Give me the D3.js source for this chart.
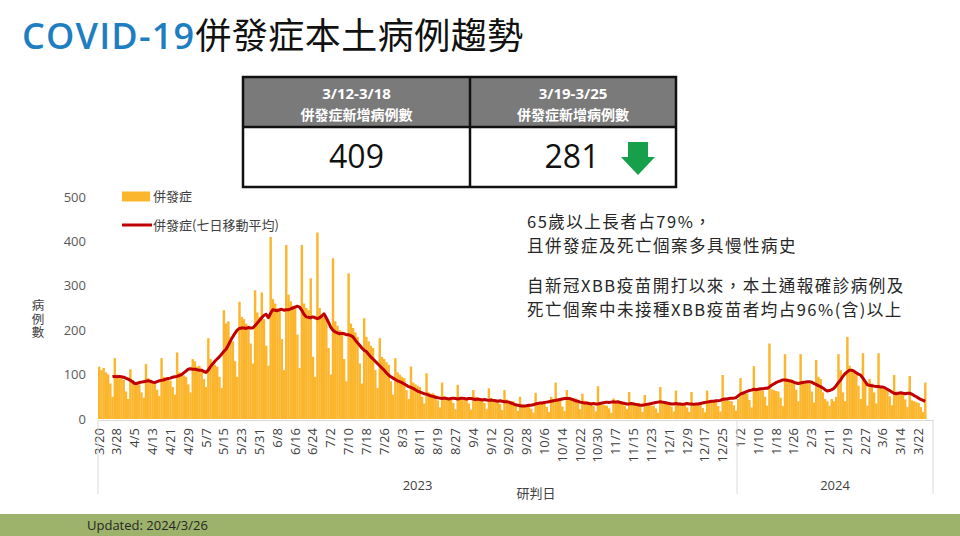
<!DOCTYPE html>
<html>
<head>
<meta charset="utf-8">
<script src="https://cdn.jsdelivr.net/npm/d3@7"></script>
<style>
  body { margin: 0; background: #fff; }
  svg { display: block; font-family: "Open Sans", "Noto Sans CJK TC", sans-serif; }
</style>
</head>
<body>
<div id="chart"></div>
<script>
// page size
const width = 960;
const height = 536;

// daily complication cases, 2023/3/20 (Mon) -> 2024/3/25, one row per week
const dailyCases = [
  118,110,115,105,100,80,50,
  137,100,95,92,88,62,45,
  112,88,80,84,78,60,48,
  124,92,88,85,80,66,52,
  137,95,92,88,86,72,55,
  150,105,100,98,95,78,60,
  135,130,118,120,112,90,72,
  182,135,128,122,118,95,70,
  245,215,220,185,175,130,95,
  264,230,225,215,210,170,125,
  290,240,230,285,225,165,120,
  410,270,260,250,245,180,110,
  392,280,265,255,250,190,115,
  392,260,250,245,317,140,95,
  420,250,235,230,225,160,100,
  362,220,210,200,195,135,85,
  328,215,205,195,185,125,80,
  227,185,175,165,160,110,70,
  182,140,135,128,122,85,55,
  137,105,100,95,92,65,45,
  118,82,78,75,72,50,35,
  103,60,57,58,54,42,26,
  82,52,49,48,47,36,22,
  77,50,46,47,45,35,21,
  65,50,48,47,46,36,22,
  69,47,45,44,43,34,20,
  65,44,41,40,40,31,18,
  50,33,31,30,30,23,14,
  59,38,36,35,35,27,16,
  50,40,82,44,42,28,18,
  65,50,48,47,46,36,22,
  57,41,39,38,37,29,17,
  74,33,32,31,30,24,14,
  46,42,40,40,38,30,22,
  61,38,37,36,36,28,16,
  54,33,31,30,30,24,14,
  72,39,37,36,36,28,17,
  64,37,35,34,34,26,16,
  61,36,34,34,33,25,15,
  64,41,39,38,38,29,17,
  99,44,42,41,40,31,19,
  45,92,60,58,57,43,26,
  119,70,66,65,64,50,30,
  170,67,65,63,62,48,29,
  146,92,88,87,85,66,40,
  146,86,82,81,80,62,37,
  133,95,90,60,45,40,30,
  45,40,50,146,110,60,40,
  185,120,110,105,100,75,45,
  148,85,30,90,80,60,35,
  148,72,68,67,66,51,31,
  99,62,59,58,57,44,27,
  97,42,40,38,36,27,16,
  82
];

// 7-day moving average, first value on 2023/3/26 (day index 6)
const maStart = 6;
const movingAvg = [
  95,
  96,95,96,95,94,92,90,
  87,84,80,80,82,83,84,
  85,86,85,83,82,84,86,
  87,88,90,91,92,94,95,
  96,98,100,104,108,112,113,
  112,112,111,110,110,107,105,
  110,118,124,130,135,140,146,
  152,157,166,176,185,193,200,
  204,205,205,204,206,205,205,
  210,216,222,228,233,236,228,
  238,246,245,244,246,247,245,
  246,246,248,250,252,254,252,
  245,236,230,229,228,230,228,
  226,228,232,237,228,218,207,
  200,196,194,192,193,192,190,
  190,188,185,178,172,166,160,
  155,152,146,140,135,130,125,
  120,115,110,104,99,95,92,
  89,86,84,82,79,76,73,
  71,69,66,63,61,59,57,
  56,54,52,51,49,48,47,
  46,47,46,45,46,47,46,
  45,46,47,46,45,46,46,
  45,44,45,44,43,44,43,
  42,43,42,41,40,41,40,
  39,39,38,36,34,32,31,
  30,29,29,30,31,31,32,
  34,35,36,36,37,38,39,
  40,41,42,43,44,45,46,
  46,46,45,43,41,40,38,
  37,36,36,35,34,35,34,
  34,35,36,37,38,37,38,
  39,38,39,37,36,35,34,
  34,35,34,33,32,31,31,
  32,33,34,35,36,37,38,
  39,38,37,36,35,34,34,
  35,34,34,33,34,35,34,
  34,33,34,34,35,36,37,
  38,39,40,40,41,41,42,
  44,45,45,46,47,47,48,
  52,56,58,60,62,64,65,
  67,66,67,68,68,69,69,
  72,76,79,82,84,86,88,
  88,87,86,85,83,81,80,
  81,82,83,84,84,83,80,
  78,75,73,70,66,63,64,
  66,69,75,82,88,96,102,
  106,110,110,108,104,101,99,
  92,85,77,76,75,74,73,
  73,72,72,70,67,64,61,
  58,57,58,59,58,57,58,
  58,56,53,50,47,44,42,
  40
];

// x axis: one category per day, labels every 8 days
const startDay = new Date(2023, 2, 20);
const endDay = new Date(2024, 2, 29);
const tickStep = 8;
const tickLabels = [
  "3/20","3/28","4/5","4/13","4/21","4/29","5/7","5/15","5/23","5/31",
  "6/8","6/16","6/24","7/2","7/10","7/18","7/26","8/3","8/11","8/19",
  "8/27","9/4","9/12","9/20","9/28","10/6","10/14","10/22","10/30","11/7",
  "11/15","11/23","12/1","12/9","12/17","12/25",
  "1/2","1/10","1/18","1/26","2/3","2/11","2/19","2/27","3/6","3/14","3/22"
];
const years = ["2023", "2024"];
const yTicks = [0, 100, 200, 300, 400, 500];

// summary table
const tablePeriods = ["3/12-3/18", "3/19-3/25"];
const tableValues = [409, 281];

// notes on the right
const notes = [
  "65歲以上長者占79%，",
  "且併發症及死亡個案多具慢性病史",
  "",
  "自新冠XBB疫苗開打以來，本土通報確診病例及",
  "死亡個案中未接種XBB疫苗者均占96%(含)以上"
];

const barColor = "#fbb62d";
const lineColor = "#c00000";

const svg = d3.select("#chart")
  .append("svg")
  .attr("lang", "zh-Hant-TW")
  .attr("width", width)
  .attr("height", height);

// title
const title = svg.append("text")
  .attr("x", 22)
  .attr("y", 49)
  .style("font-size", "36px");
title.append("tspan")
  .attr("fill", "#1f7ec2")
  .style("font-weight", 600)
  .style("letter-spacing", "1.2px")
  .text("COVID-19");
title.append("tspan")
  .attr("fill", "#111")
  .style("font-family", "'Noto Sans CJK TC'")
  .style("font-weight", 400)
  .style("letter-spacing", "0.5px")
  .text("併發症本土病例趨勢");

// scales
const days = d3.timeDay.range(startDay, endDay);
const x = d3.scaleBand()
  .domain(days.map((d, i) => i))
  .range([98, 933])
  .paddingInner(0);

const y = d3.scaleLinear()
  .domain([0, 500])
  .range([419, 197]);

// bars
svg.append("g")
  .selectAll("rect")
  .data(dailyCases)
  .join("rect")
  .attr("x", (d, i) => x(i))
  .attr("width", x.bandwidth() + 0.2)
  .attr("y", d => y(d))
  .attr("height", d => y(0) - y(d))
  .attr("fill", barColor);

// moving average line
const line = d3.line()
  .x((d, i) => x(i + maStart) + x.bandwidth() / 2)
  .y(d => y(d));

svg.append("path")
  .datum(movingAvg)
  .attr("d", line)
  .attr("fill", "none")
  .attr("stroke", lineColor)
  .attr("stroke-width", 3)
  .attr("stroke-linejoin", "round");

// x axis
const xAxis = d3.axisBottom(x)
  .tickValues(tickLabels.map((t, k) => k * tickStep))
  .tickFormat((d, k) => tickLabels[k])
  .tickSize(0);

const gx = svg.append("g")
  .attr("transform", "translate(0,420)")
  .call(xAxis);
gx.select(".domain").attr("stroke", "#d9d9d9");
gx.selectAll("text")
  .attr("transform", "rotate(-90)")
  .attr("x", -8)
  .attr("y", 0)
  .attr("dy", "0.35em")
  .attr("text-anchor", "end")
  .attr("fill", "#404040")
  .style("font-size", "13px")
  .style("font-family", "'Open Sans'");

// year separators and labels
const janIndex = days.findIndex(d => d.getFullYear() === 2024);
const sepX = [x.range()[0], x(janIndex), x.range()[1]];
svg.append("g")
  .selectAll("line")
  .data(sepX)
  .join("line")
  .attr("x1", d => d)
  .attr("x2", d => d)
  .attr("y1", 420)
  .attr("y2", 494)
  .attr("stroke", "#d9d9d9");

svg.append("g")
  .selectAll("text")
  .data(years)
  .join("text")
  .attr("x", (d, i) => (sepX[i] + sepX[i + 1]) / 2)
  .attr("y", 490)
  .attr("text-anchor", "middle")
  .attr("fill", "#404040")
  .style("font-size", "13px")
  .text(d => d);

svg.append("text")
  .attr("x", 536)
  .attr("y", 498)
  .attr("text-anchor", "middle")
  .attr("fill", "#404040")
  .style("font-family", "'Noto Sans CJK TC'")
  .style("font-size", "13px")
  .text("研判日");

// y axis labels
const gy = svg.append("g")
  .attr("transform", "translate(98,0)")
  .call(d3.axisLeft(y).tickValues(yTicks).tickSize(0).tickPadding(12));
gy.select(".domain").remove();
gy.selectAll("text")
  .attr("fill", "#595959")
  .style("font-size", "13px")
  .style("font-family", "'Open Sans'");

// y title, written top to bottom
svg.append("text")
  .attr("x", 38)
  .attr("y", 299)
  .attr("fill", "#404040")
  .style("writing-mode", "vertical-rl")
  .style("text-orientation", "upright")
  .style("font-family", "'Noto Sans CJK TC'")
  .style("font-size", "12.5px")
  .style("letter-spacing", "1px")
  .text("病例數");

// legend
const legend = svg.append("g")
  .style("font-family", "'Noto Sans CJK TC'")
  .style("font-size", "13px");
legend.append("rect")
  .attr("x", 122).attr("y", 191.5)
  .attr("width", 28).attr("height", 10)
  .attr("fill", barColor);
legend.append("text")
  .attr("x", 153).attr("y", 196.5).attr("dy", "0.35em")
  .attr("fill", "#404040")
  .text("併發症");
legend.append("line")
  .attr("x1", 122).attr("x2", 152)
  .attr("y1", 225).attr("y2", 225)
  .attr("stroke", lineColor).attr("stroke-width", 3);
legend.append("text")
  .attr("x", 153).attr("y", 225).attr("dy", "0.35em")
  .attr("fill", "#404040")
  .text("併發症(七日移動平均)");

// summary table
const tX = 243, tW = 433, tY = 77, headH = 50, rowH = 60;
const colW = [227, 206];
const table = svg.append("g");
table.append("rect")
  .attr("x", tX).attr("y", tY)
  .attr("width", tW).attr("height", headH)
  .attr("fill", "#7a7a7a");
table.append("rect")
  .attr("x", tX).attr("y", tY)
  .attr("width", tW).attr("height", headH + rowH)
  .attr("fill", "none")
  .attr("stroke", "#111")
  .attr("stroke-width", 2.5);
table.append("line")
  .attr("x1", tX).attr("x2", tX + tW)
  .attr("y1", tY + headH).attr("y2", tY + headH)
  .attr("stroke", "#111").attr("stroke-width", 2.5);
table.append("line")
  .attr("x1", tX + colW[0]).attr("x2", tX + colW[0])
  .attr("y1", tY).attr("y2", tY + headH + rowH)
  .attr("stroke", "#111").attr("stroke-width", 2.5);

const colCenter = [tX + colW[0] / 2, tX + colW[0] + colW[1] / 2];
table.selectAll(".period")
  .data(tablePeriods)
  .join("text")
  .attr("class", "period")
  .attr("x", (d, i) => colCenter[i])
  .attr("y", 99)
  .attr("text-anchor", "middle")
  .attr("fill", "#fff")
  .style("font-size", "15px")
  .style("font-weight", 700)
  .text(d => d);
table.selectAll(".head")
  .data(tablePeriods)
  .join("text")
  .attr("class", "head")
  .attr("x", (d, i) => colCenter[i])
  .attr("y", 120)
  .attr("text-anchor", "middle")
  .attr("fill", "#fff")
  .style("font-family", "'Noto Sans CJK TC'")
  .style("font-size", "14px")
  .style("font-weight", 700)
  .text("併發症新增病例數");
table.selectAll(".value")
  .data(tableValues)
  .join("text")
  .attr("class", "value")
  .attr("x", (d, i) => i === 0 ? colCenter[0] : 572)
  .attr("y", 168)
  .attr("text-anchor", "middle")
  .attr("fill", "#111")
  .style("font-size", "32px")
  .text(d => d);

// green down arrow
table.append("path")
  .attr("d", "M628,142 L648,142 L648,157 L655,157 L638,175 L621,157 L628,157 Z")
  .attr("fill", "#17a04a");

// notes
svg.append("g")
  .selectAll("text")
  .data(notes)
  .join("text")
  .attr("x", 527)
  .attr("y", (d, i) => [228, 252, 0, 292, 316][i])
  .attr("fill", "#262626")
  .style("font-family", "'Noto Sans CJK TC'")
  .style("font-size", "16.5px")
  .style("letter-spacing", "1.5px")
  .text(d => d);

// footer band
svg.append("rect")
  .attr("x", 0).attr("y", 514)
  .attr("width", width).attr("height", 22)
  .attr("fill", "#9db36b");
svg.append("text")
  .attr("x", 87).attr("y", 530)
  .attr("fill", "#262626")
  .style("font-size", "13px")
  .text("Updated: 2024/3/26");
</script>
</body>
</html>
